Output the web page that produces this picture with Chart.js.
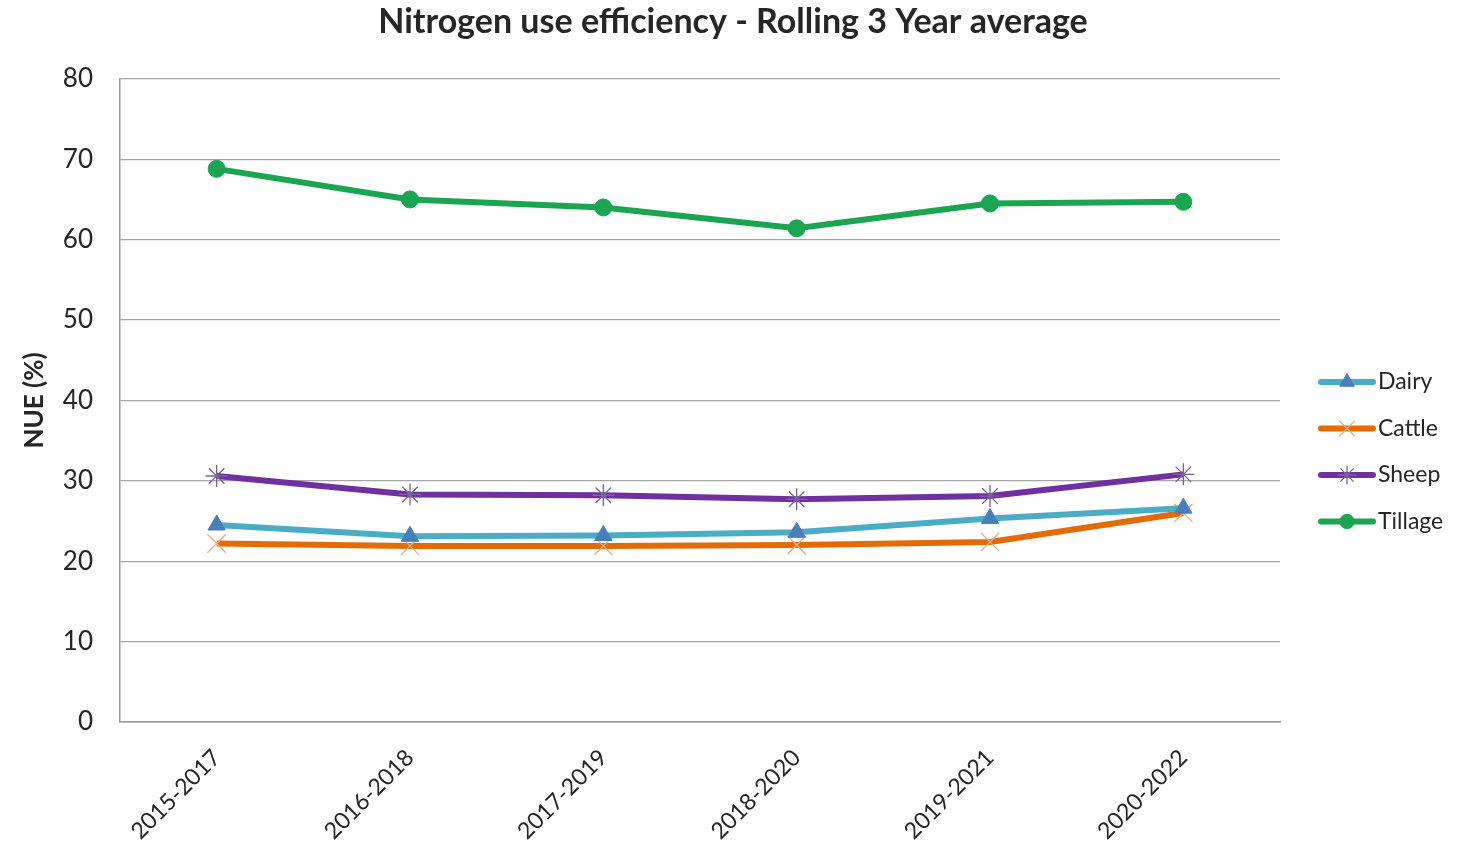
<!DOCTYPE html>
<html>
<head>
<meta charset="utf-8">
<script src="https://cdn.jsdelivr.net/npm/chart.js@4.4.1/dist/chart.umd.min.js"></script>
<style>
  html, body { margin: 0; padding: 0; background: #fff; }
  #wrap { width: 1466px; height: 845px; position: relative; }
</style>
</head>
<body>
<div id="wrap"><canvas id="nue"></canvas></div>
<script>
// NUE rolling 3-year averages
var periods = ['2015-2017', '2016-2018', '2017-2019', '2018-2020', '2019-2021', '2020-2022'];
var dairy   = [24.5, 23.1, 23.2, 23.6, 25.3, 26.6];
var cattle  = [22.2, 21.9, 21.9, 22.0, 22.4, 26.0];
var sheep   = [30.6, 28.3, 28.2, 27.7, 28.1, 30.8];
var tillage = [68.8, 65.0, 64.0, 61.4, 64.5, 64.7];
var yTicks  = [0, 10, 20, 30, 40, 50, 60, 70, 80];

var FONT = 'Lato, "Open Sans", sans-serif';

var series = [
  { label: 'Dairy',   data: dairy,   line: '#4bacc6', mark: '#4a7ebb', style: 'triangle', r: 10, mw: 1 },
  { label: 'Cattle',  data: cattle,  line: '#e36c09', mark: '#e0b08a', style: 'crossRot', r: 13, mw: 1.3 },
  { label: 'Sheep',   data: sheep,   line: '#7030a0', mark: '#7a649a', style: 'star',     r: 11, mw: 1.3 },
  { label: 'Tillage', data: tillage, line: '#1ba553', mark: '#1ba553', style: 'circle',   r: 8.5, mw: 1 }
];

// legend: short line with the marker in the middle, drawn by hand
var legendPlugin = {
  id: 'sideLegend',
  afterDraw: function (chart) {
    var ctx = chart.ctx;
    var x0 = 1318, y0 = 382, step = 46.5;
    ctx.save();
    series.forEach(function (s, i) {
      var y = y0 + i * step;
      ctx.strokeStyle = s.line;
      ctx.lineWidth = 6;
      ctx.lineCap = 'round';
      ctx.beginPath();
      ctx.moveTo(x0 + 3, y);
      ctx.lineTo(x0 + 55, y);
      ctx.stroke();
      ctx.lineCap = 'butt';
      ctx.fillStyle = s.mark;
      ctx.strokeStyle = s.mark;
      ctx.lineWidth = s.mw;
      Chart.helpers.drawPoint(ctx, { pointStyle: s.style, radius: s.r * 0.85, borderWidth: s.mw }, x0 + 29, y);
      ctx.fillStyle = '#262626';
      ctx.font = '23px ' + FONT;
      ctx.textBaseline = 'middle';
      ctx.textAlign = 'left';
      ctx.fillText(s.label, x0 + 60, y);
    });
    ctx.restore();
  }
};

new Chart(document.getElementById('nue'), {
  type: 'line',
  data: {
    labels: periods,
    datasets: series.map(function (s) {
      return {
        label: s.label,
        data: s.data,
        borderColor: s.line,
        borderWidth: 6,
        tension: 0,
        pointStyle: s.style,
        pointRadius: s.r,
        pointBackgroundColor: s.mark,
        pointBorderColor: s.mark,
        pointBorderWidth: s.mw
      };
    })
  },
  options: {
    responsive: true,
    maintainAspectRatio: false,
    animation: false,
    layout: { padding: { left: 0, right: 0, top: 0, bottom: 0 } },
    scales: {
      x: {
        offset: true,
        grid: { display: false, drawTicks: false },
        border: { display: true, color: '#999999', width: 1.5 },
        ticks: {
          maxRotation: 45, minRotation: 45, padding: 22,
          color: '#262626', font: { family: FONT, size: 23 }
        },
        afterFit: function (axis) { axis.height = 123; }
      },
      y: {
        min: 0, max: 80,
        afterBuildTicks: function (axis) { axis.ticks = yTicks.map(function (v) { return { value: v }; }); },
        grid: { color: '#a6a6a6', lineWidth: 1.2, drawTicks: false },
        border: { display: true, color: '#999999', width: 1.5 },
        ticks: { padding: 27, color: '#262626', font: { family: FONT, size: 26 } },
        title: {
          display: true, text: 'NUE (%)', color: '#262626', padding: { top: 19, bottom: 2 },
          font: { family: FONT, size: 26, weight: 'bold' }
        },
        afterFit: function (axis) { axis.width = 120; }
      },
      // empty right axis that only keeps room for the legend
      side: {
        position: 'right',
        display: true,
        grid: { display: false, drawTicks: false },
        border: { display: false },
        ticks: { display: false },
        afterFit: function (axis) { axis.width = 186; }
      }
    },
    plugins: {
      legend: { display: false },
      tooltip: { enabled: false },
      title: {
        display: true,
        text: 'Nitrogen use efficiency - Rolling 3 Year average',
        color: '#262626',
        font: { family: FONT, size: 34, weight: 'bold' },
        padding: { top: 2, bottom: 36 }
      }
    }
  },
  plugins: [legendPlugin]
});
</script>
</body>
</html>
